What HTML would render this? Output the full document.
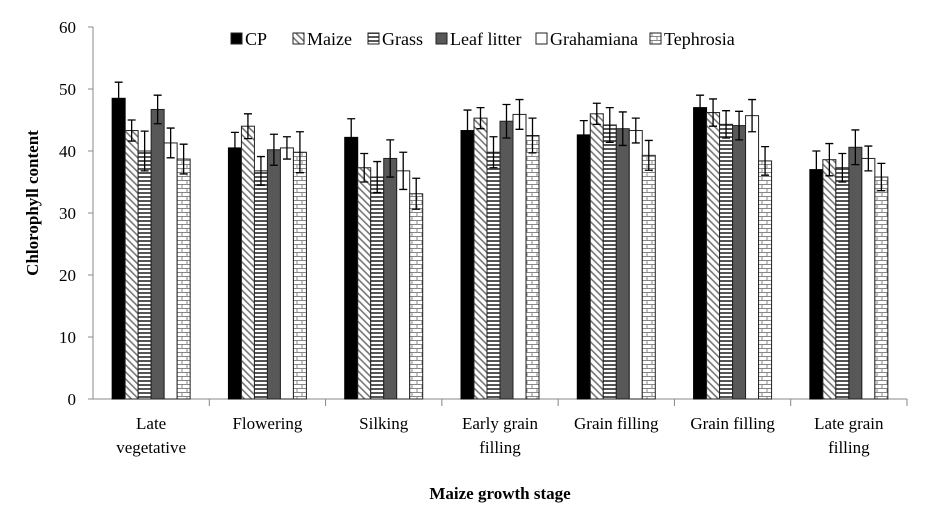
<!DOCTYPE html>
<html><head><meta charset="utf-8"><style>
html,body{margin:0;padding:0;background:#fff;}
svg{display:block;font-family:"Liberation Serif",serif;}
</style></head><body>
<svg id="chart" width="929" height="517" viewBox="0 0 929 517">
<defs>
<pattern id="p-maize" width="5" height="5" patternUnits="userSpaceOnUse" patternTransform="rotate(-45)"><rect width="5" height="5" fill="#fff"/><rect width="1.6" height="5" fill="#777"/></pattern>
<pattern id="p-grass" width="4" height="4" patternUnits="userSpaceOnUse"><rect width="4" height="4" fill="#fff"/><rect width="4" height="2" fill="#555"/></pattern>
<pattern id="p-teph" width="10" height="8" patternUnits="userSpaceOnUse"><rect width="10" height="8" fill="#fff"/><path d="M0 0.5H10M0 4.5H10M2 0V4M7 4V8" stroke="#888" stroke-width="1" fill="none"/></pattern>
</defs>
<g id="axes"></g>
<g id="bars"></g>
<g id="legend"></g>
<text x="48" y="213" transform="rotate(-90 38 213)" text-anchor="middle" font-weight="bold" font-size="17">Chlorophyll content</text>
<text x="500" y="499" text-anchor="middle" font-weight="bold" font-size="17">Maize growth stage</text>
</svg>
<script>
const categories = [["Late","vegetative"],["Flowering"],["Silking"],["Early grain","filling"],["Grain filling"],["Grain filling"],["Late grain","filling"]];
const seriesNames = ["CP","Maize","Grass","Leaf litter","Grahamiana","Tephrosia"];
const cp = [48.5,40.5,42.2,43.3,42.6,47.0,37.0];
const maize = [43.3,44.0,37.3,45.3,46.0,46.2,38.6];
const grass = [40.0,36.8,35.8,39.8,44.2,44.3,37.3];
const leaf = [46.7,40.2,38.8,44.8,43.6,44.1,40.6];
const graham = [41.3,40.5,36.8,45.9,43.3,45.7,38.8];
const teph = [38.7,39.8,33.1,42.5,39.3,38.4,35.8];
const cpErr = [2.6,2.5,3.0,3.3,2.3,2.0,3.0];
const maizeErr = [1.7,2.0,2.3,1.7,1.7,2.2,2.6];
const grassErr = [3.2,2.3,2.5,2.5,2.8,2.2,2.3];
const leafErr = [2.3,2.5,3.0,2.7,2.7,2.3,2.8];
const grahamErr = [2.4,1.8,3.0,2.4,2.0,2.6,2.0];
const tephErr = [2.4,3.3,2.5,2.8,2.4,2.3,2.2];
const yTicks = [0,10,20,30,40,50,60];

const series=[cp,maize,grass,leaf,graham,teph];
const errs=[cpErr,maizeErr,grassErr,leafErr,grahamErr,tephErr];
const fills=["#000","url(#p-maize)","url(#p-grass)","#585858","#fff","url(#p-teph)"];
const NS="http://www.w3.org/2000/svg";
const X0=93,X1=907,Y0=399,YT=27;
const y=v=>Y0-(v/60)*(Y0-YT);
const gw=(X1-X0)/categories.length, bw=13;
const x=(g,s)=>X0+gw*g+gw/2-bw*3+bw*s;
function mk(tag,attrs,parent){const e=document.createElementNS(NS,tag);for(const k in attrs)e.setAttribute(k,attrs[k]);parent.appendChild(e);return e;}
const axes=document.getElementById('axes'),bars=document.getElementById('bars'),leg=document.getElementById('legend');
let ax=mk('line',{x1:X0,y1:YT,x2:X0,y2:Y0,stroke:'#888','stroke-width':1},axes);


let xl=mk('line',{x1:X0,y1:Y0,x2:X1,y2:Y0,stroke:'#888','stroke-width':1},axes);


yTicks.forEach(t=>{
 mk('line',{x1:X0-5,y1:y(t),x2:X0,y2:y(t),stroke:'#888'},axes);
 const tx=mk('text',{x:76,y:y(t)+6,'text-anchor':'end','font-size':17},axes);tx.textContent=t;
 
 
});
categories.forEach((c,g)=>{
 mk('line',{x1:X0+gw*(g+1),y1:Y0,x2:X0+gw*(g+1),y2:Y0+7,stroke:'#888'},axes);
 c.forEach((ln,i)=>{const tx=mk('text',{x:X0+gw*g+gw/2,y:429+i*24,'text-anchor':'middle','font-size':17},axes);tx.textContent=ln;
 
 });
 series.forEach((s,i)=>{
  const r=mk('rect',{x:x(g,i),y:y(s[g]),width:bw,height:Y0-y(s[g]),fill:fills[i],stroke:i==0?'#000':'#222','stroke-width':1},bars);
  
  
  const cx=x(g,i)+bw/2,e=errs[i][g];
  mk('path',{d:`M${cx} ${y(s[g]+e)}V${y(s[g]-e)}M${cx-4} ${y(s[g]+e)}H${cx+4}M${cx-4} ${y(s[g]-e)}H${cx+4}`,stroke:'#000','stroke-width':1.3,fill:'none'},bars);
 });
});
const lx=[231,293,368,436,536,650];
seriesNames.forEach((n,i)=>{
 const gg=mk('g',{},leg);
 
 
 mk('rect',{x:lx[i],y:33,width:11,height:11,fill:fills[i],stroke:'#222'},gg);
 const t=mk('text',{x:lx[i]+14,y:45,'font-size':18},gg);t.textContent=n;
});
</script>
</body></html>
